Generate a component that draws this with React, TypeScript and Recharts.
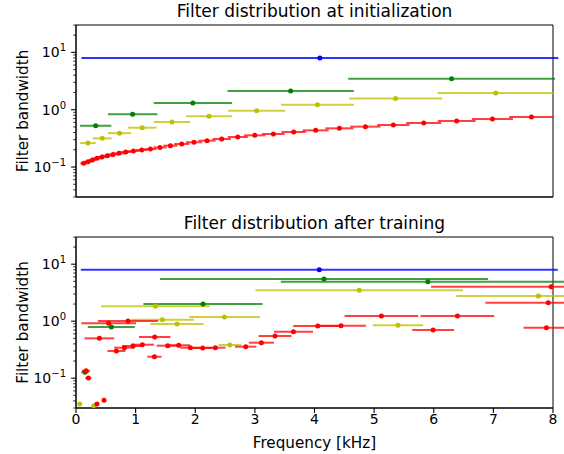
import React from 'react';
import { ScatterChart, Scatter, XAxis, YAxis, ErrorBar, CartesianGrid } from 'recharts';

// ---------- tick values ----------
const xTicks = [0, 1, 2, 3, 4, 5, 6, 7, 8];
const yTicks = [
  0.03, 0.04, 0.05, 0.06, 0.07, 0.08, 0.09,
  0.1, 0.2, 0.3, 0.4, 0.5, 0.6, 0.7, 0.8, 0.9,
  1, 2, 3, 4, 5, 6, 7, 8, 9,
  10, 20, 30,
];
const yDomain = [0.03, 30];
const xDomain = [0, 8];

// ---------- panel 1: at initialization (centre freq [kHz], bandwidth [kHz]) ----------
const initBlueFreq = [4.09];
const initBlueBw = [8.0];

const initGreenFreq = [0.33, 0.95, 1.96, 3.6, 6.3];
const initGreenBw = [0.526, 0.83, 1.31, 2.12, 3.47];

const initYellowFreq = [0.2, 0.44, 0.73, 1.11, 1.61, 2.23, 3.03, 4.05, 5.36, 7.04];
const initYellowBw = [0.262, 0.316, 0.39, 0.485, 0.61, 0.765, 0.96, 1.22, 1.56, 1.95];

const initRedFreq = [
  0.129, 0.201, 0.275, 0.352, 0.436, 0.527, 0.621, 0.721, 0.834, 0.963,
  1.102, 1.248, 1.409, 1.583, 1.773, 1.979, 2.197, 2.444, 2.713, 2.998,
  3.311, 3.651, 4.02, 4.418, 4.854, 5.323, 5.832, 6.385, 6.984, 7.638,
];
const initRedBw = [
  0.116, 0.124, 0.133, 0.142, 0.15, 0.158, 0.166, 0.173, 0.183, 0.19,
  0.198, 0.206, 0.22, 0.236, 0.252, 0.27, 0.288, 0.308, 0.334, 0.357,
  0.377, 0.408, 0.436, 0.473, 0.506, 0.541, 0.586, 0.635, 0.688, 0.746,
];

// ---------- panel 2: after training ----------
const trainBlueFreq = [4.08];
const trainBlueBw = [8.0];

const trainGreenFreq = [0.151, 0.593, 2.13, 4.16, 5.9];
const trainGreenBw = [0.127, 0.79, 2.0, 5.5, 4.93];

const trainYellowFreq = [0.062, 0.297, 1.331, 1.449, 1.694, 2.49, 2.58, 4.75, 5.4, 7.755];
const trainYellowBw = [0.0352, 0.033, 1.82, 1.06, 0.893, 1.185, 0.382, 3.48, 0.847, 2.77];

const trainRedFreq = [
  0.168, 0.208, 0.352, 0.47, 0.392, 0.548, 0.872, 0.677, 0.811, 0.956,
  1.113, 1.32, 1.315, 1.538, 1.722, 1.918, 2.125, 2.338, 2.846, 3.109,
  3.338, 3.646, 4.054, 4.445, 5.122, 5.99, 6.397, 7.92, 7.97, 7.89,
];
const trainRedBw = [
  0.135, 0.101, 0.0352, 0.041, 0.5, 0.918, 1.008, 0.3, 0.343, 0.367,
  0.387, 0.528, 0.238, 0.372, 0.378, 0.343, 0.339, 0.343, 0.357, 0.42,
  0.55, 0.655, 0.823, 0.835, 1.234, 0.7, 1.234, 2.11, 4.03, 0.769,
];

// ---------- styles ----------
const FONT = '"DejaVu Sans", "Liberation Sans", sans-serif';
const COLORS = {
  blue: '#0000ff',
  green: '#008000',
  yellow: '#bfbf00',
  red: '#ff0000',
};
const BAR_COLORS = {
  blue: 'rgba(0,0,255,0.8)',
  green: 'rgba(0,128,0,0.75)',
  yellow: 'rgba(191,191,0,0.75)',
  red: 'rgba(255,0,0,0.75)',
};

type Pt = { x: number; y: number; err: number };
const buildPoints = (freq: number[], bw: number[]): Pt[] =>
  freq.map((f, i) => ({ x: f, y: bw[i], err: bw[i] / 2 }));

type SeriesDef = { name: string; color: keyof typeof COLORS; data: Pt[] };

const initSeries: SeriesDef[] = [
  { name: 'init-blue', color: 'blue', data: buildPoints(initBlueFreq, initBlueBw) },
  { name: 'init-green', color: 'green', data: buildPoints(initGreenFreq, initGreenBw) },
  { name: 'init-yellow', color: 'yellow', data: buildPoints(initYellowFreq, initYellowBw) },
  { name: 'init-red', color: 'red', data: buildPoints(initRedFreq, initRedBw) },
];
const trainSeries: SeriesDef[] = [
  { name: 'train-blue', color: 'blue', data: buildPoints(trainBlueFreq, trainBlueBw) },
  { name: 'train-green', color: 'green', data: buildPoints(trainGreenFreq, trainGreenBw) },
  { name: 'train-yellow', color: 'yellow', data: buildPoints(trainYellowFreq, trainYellowBw) },
  { name: 'train-red', color: 'red', data: buildPoints(trainRedFreq, trainRedBw) },
];

const YTick = (props: any) => {
  const { x, y, payload } = props;
  const v = payload.value as number;
  const e = Math.log10(v);
  const exp = Math.round(e);
  const major = Math.abs(e - exp) < 1e-6;
  const len = major ? 4.9 : 2.8;
  return (
    <g>
      <line x1={x} x2={x - len} y1={y} y2={y} stroke="#000" strokeWidth={major ? 1.1 : 0.8} />
      {major && (
        <text x={x - 10} y={y + 5} textAnchor="end" fontSize={14} fill="#000" fontFamily={FONT}>
          10
          <tspan dy={-6} fontSize={10}>
            {exp < 0 ? '\u2212' + String(-exp) : String(exp)}
          </tspan>
        </text>
      )}
    </g>
  );
};

// x tick label (tick line drawn by the axis)
const XTick = (props: any) => {
  const { x, y, payload } = props;
  return (
    <text x={x} y={y + 10.5} textAnchor="middle" fontSize={14} fill="#000" fontFamily={FONT}>
      {String(payload.value)}
    </text>
  );
};

const YLabel = (props: any) => {
  const vb = props.viewBox || { x: 0, y: 0, width: 76, height: 172 };
  const cx = vb.x + 28;
  const cy = vb.y + vb.height / 2;
  return (
    <text
      x={cx}
      y={cy}
      transform={`rotate(-90, ${cx}, ${cy})`}
      textAnchor="middle"
      fontSize={15.2}
      fill="#000"
      fontFamily={FONT}
    >
      Filter bandwidth
    </text>
  );
};

const XLabel = (props: any) => {
  const vb = props.viewBox || { x: 76, y: 188, width: 477, height: 46 };
  return (
    <text
      x={vb.x + vb.width / 2}
      y={vb.y + 40}
      textAnchor="middle"
      fontSize={15.2}
      fill="#000"
      fontFamily={FONT}
    >
      Frequency [kHz]
    </text>
  );
};

const Dot = (color: string) => (props: any) => {
  const { cx, cy } = props;
  if (cx == null || cy == null) return <g />;
  return <circle cx={cx} cy={cy} r={2.5} fill={color} stroke="none" />;
};

type PanelProps = {
  height: number;
  marginTop: number;
  xAxisHeight: number;
  showXLabels: boolean;
  series: SeriesDef[];
};

function Panel({ height, marginTop, xAxisHeight, showXLabels, series }: PanelProps) {
  return (
    <ScatterChart
      width={564}
      height={height}
      margin={{ top: marginTop, right: 11, bottom: 0, left: 0 }}
      style={{ display: 'block' }}
    >
      <CartesianGrid
        stroke="#000"
        strokeWidth={1}
        horizontalCoordinatesGenerator={(p: any) => [p.offset.top, p.offset.top + p.offset.height]}
        verticalCoordinatesGenerator={(p: any) => [p.offset.left, p.offset.left + p.offset.width]}
      />
      <XAxis
        type="number"
        dataKey="x"
        domain={xDomain}
        allowDataOverflow
        ticks={xTicks}
        interval={0}
        height={xAxisHeight}
        tickSize={5}
        tickMargin={0}
        axisLine={{ stroke: '#000', strokeWidth: 1 }}
        tickLine={{ stroke: '#000', strokeWidth: 1.1 }}
        tick={showXLabels ? <XTick /> : false}
        label={showXLabels ? XLabel : undefined}
      />
      <YAxis
        type="number"
        dataKey="y"
        scale="log"
        domain={yDomain}
        allowDataOverflow
        ticks={yTicks}
        interval={0}
        width={76}
        tickSize={0}
        tickMargin={0}
        tickLine={false}
        axisLine={{ stroke: '#000', strokeWidth: 1 }}
        tick={<YTick />}
        label={YLabel}
      />
      {series.map((s) => (
        <Scatter
          key={s.name}
          name={s.name}
          data={s.data}
          isAnimationActive={false}
          shape={Dot(COLORS[s.color])}
        >
          <ErrorBar
            dataKey="err"
            direction="x"
            width={0}
            stroke={BAR_COLORS[s.color]}
            strokeWidth={2}
            isAnimationActive={false}
          />
        </Scatter>
      ))}
    </ScatterChart>
  );
}

export default function App() {
  return (
    <div
      style={{
        position: 'absolute',
        left: 0,
        top: 0,
        width: 564,
        height: 454,
        background: '#fff',
        fontFamily: FONT,
      }}
    >
      <Panel height={220} marginTop={25} xAxisHeight={23} showXLabels={false} series={initSeries} />
      <Panel height={234} marginTop={17} xAxisHeight={46} showXLabels={true} series={trainSeries} />
      <svg
        width={564}
        height={454}
        style={{ position: 'absolute', left: 0, top: 0, pointerEvents: 'none' }}
      >
        <text x={314.5} y={17} textAnchor="middle" fontSize={17} fill="#000" fontFamily={FONT}>
          Filter distribution at initialization
        </text>
        <text x={314.5} y={229} textAnchor="middle" fontSize={17} fill="#000" fontFamily={FONT}>
          Filter distribution after training
        </text>
      </svg>
    </div>
  );
}
